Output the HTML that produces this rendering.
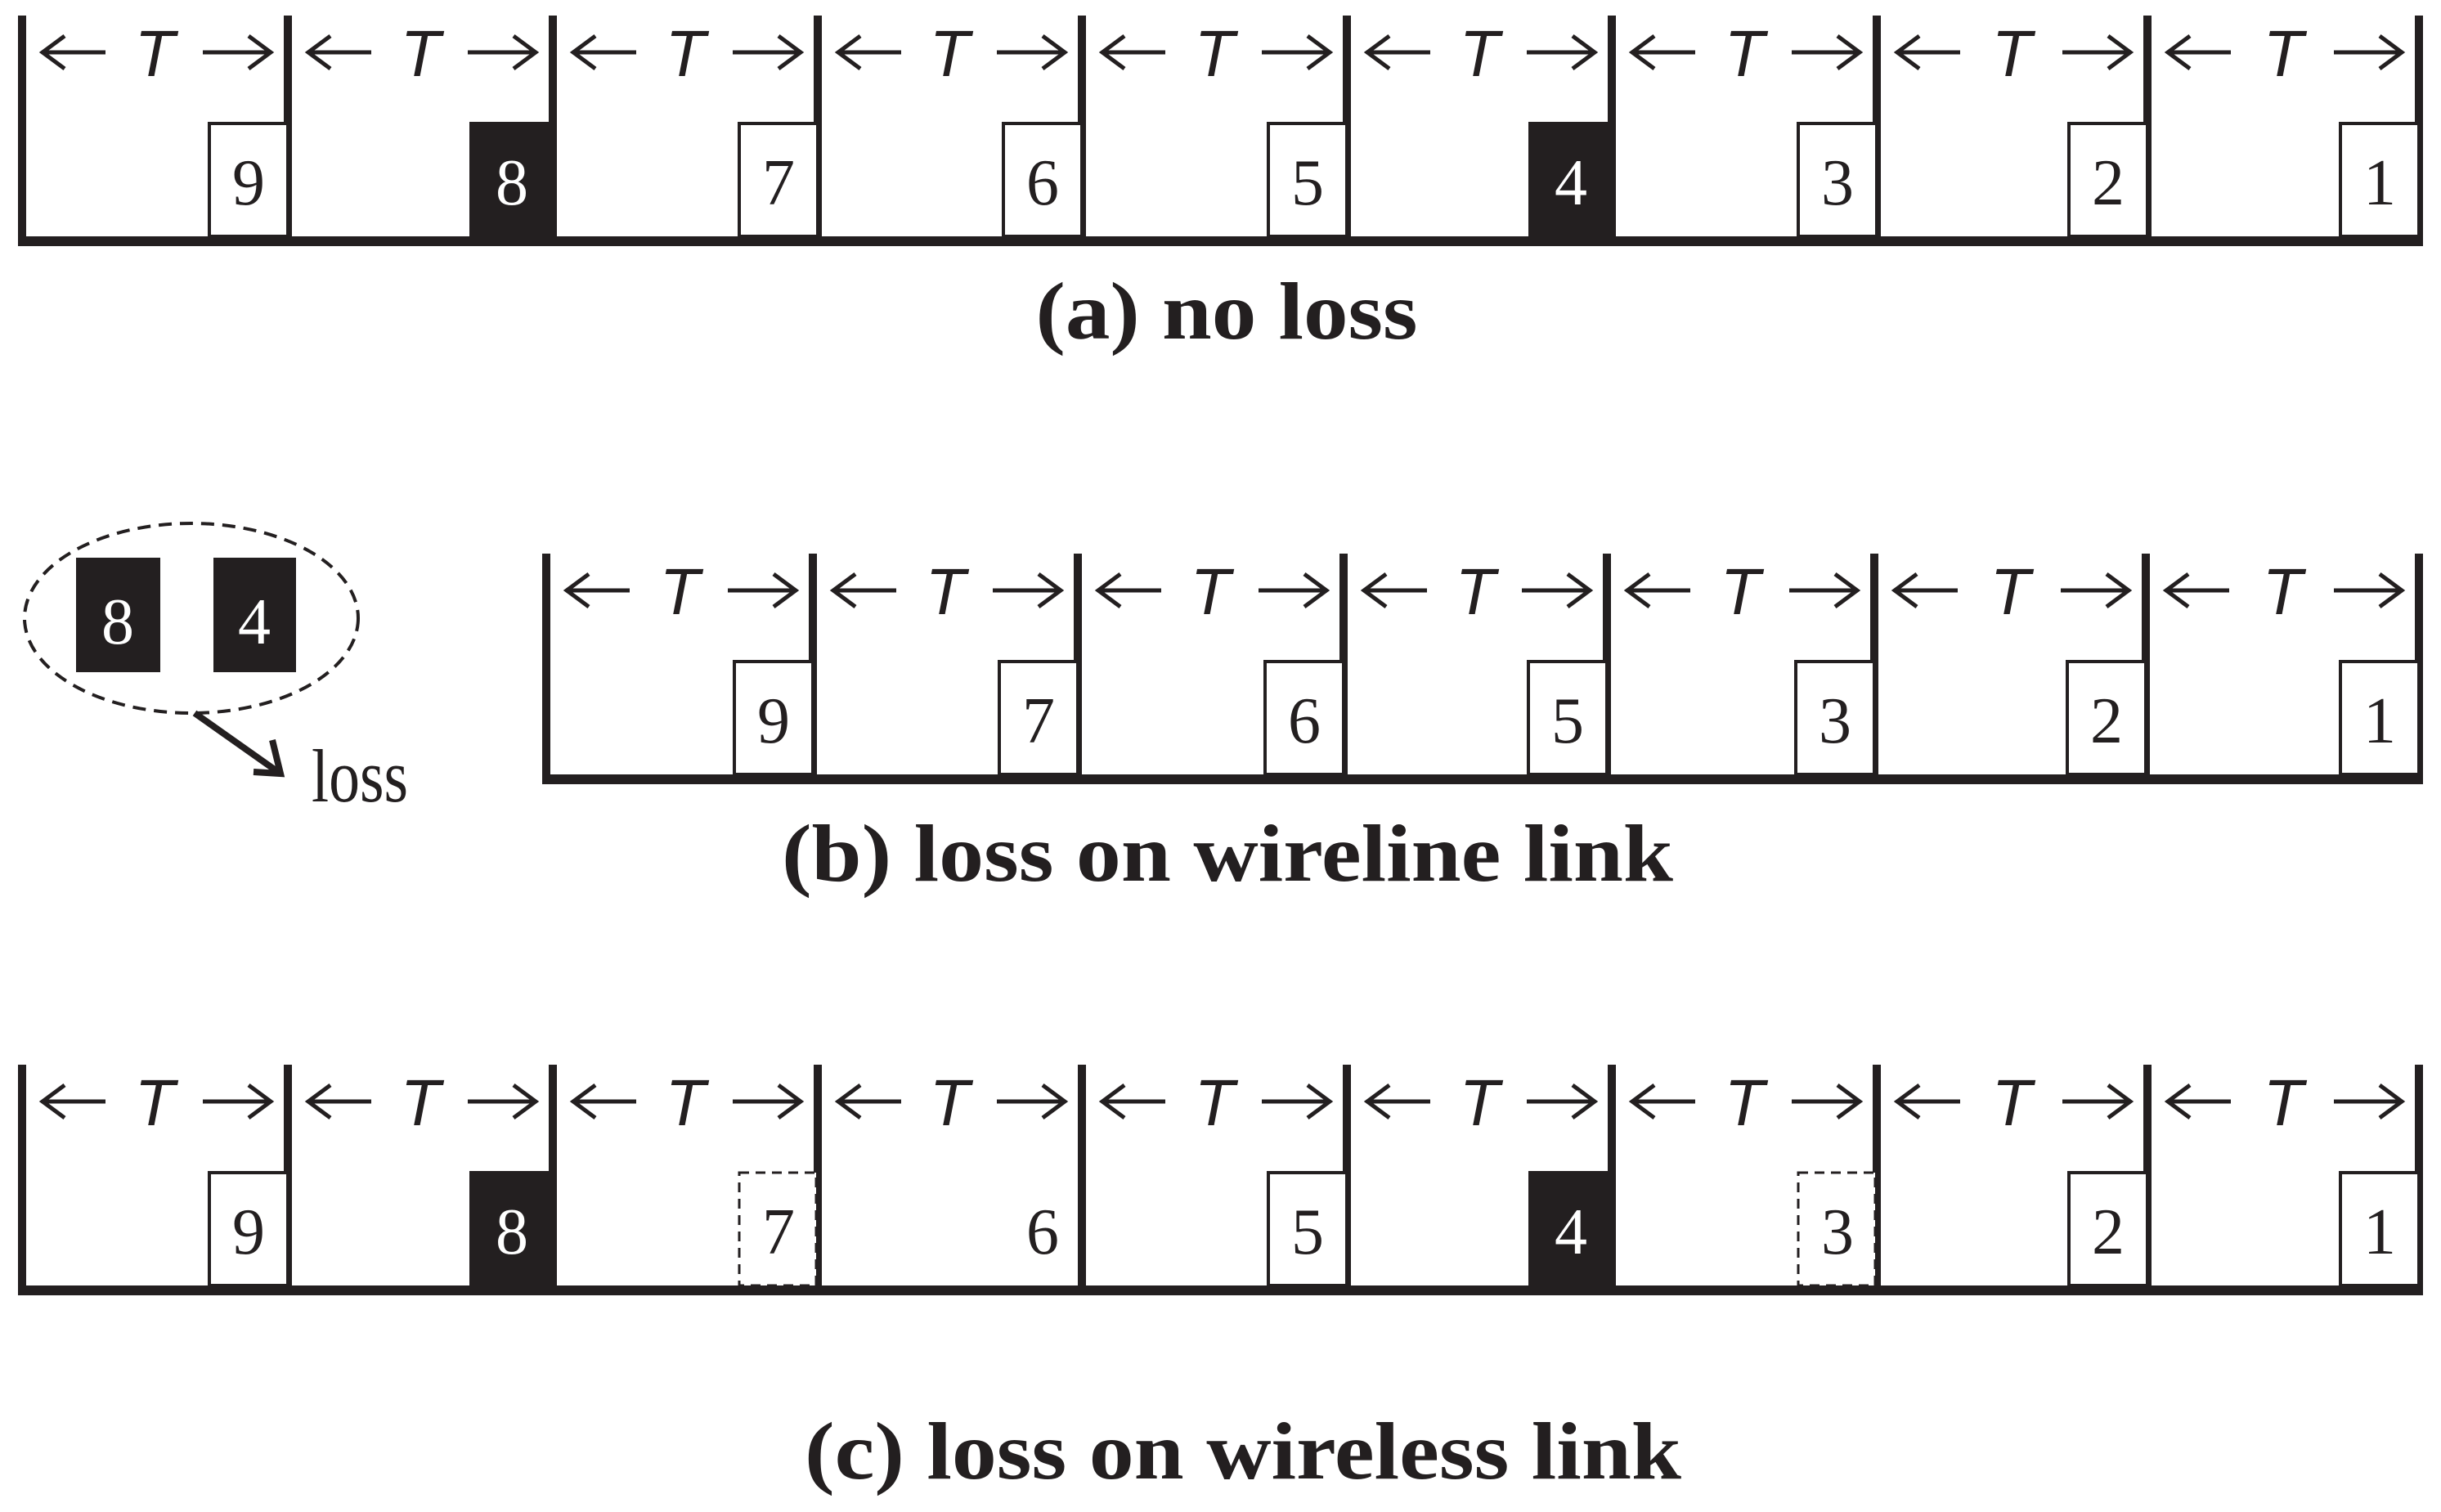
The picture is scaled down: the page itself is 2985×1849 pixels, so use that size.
<!DOCTYPE html>
<html><head><meta charset="utf-8"><style>
html,body{margin:0;padding:0;background:#fff;}
svg{display:block;}
.t{font-family:"Liberation Sans",sans-serif;font-style:italic;font-size:80px;fill:#231f20;}
.d{font-family:"Liberation Serif",serif;font-size:80px;fill:#231f20;}
.w{fill:#fff;}
.cap{font-family:"Liberation Serif",serif;font-weight:bold;font-size:100px;fill:#231f20;}
.loss{font-family:"Liberation Serif",serif;font-size:92px;fill:#231f20;}
</style></head><body>
<svg width="2985" height="1849" viewBox="0 0 2985 1849" xmlns="http://www.w3.org/2000/svg">
<defs>
<g id="arr" stroke="#231f20" stroke-width="5" fill="none"><path d="M102 64H25M52 44L25 64L52 84"/></g>
<g id="arrR" stroke="#231f20" stroke-width="5" fill="none"><path d="M-104 64H-21M-48 44L-21 64L-48 84"/></g>
</defs>

<!-- ROW A -->
<g>
<rect x="22" y="289" width="2941" height="12" fill="#231f20"/>
<g stroke="#231f20" stroke-width="10">
<line x1="27" y1="19" x2="27" y2="295"/><line x1="352" y1="19" x2="352" y2="295"/><line x1="676" y1="19" x2="676" y2="295"/><line x1="1000" y1="19" x2="1000" y2="295"/><line x1="1323" y1="19" x2="1323" y2="295"/><line x1="1647" y1="19" x2="1647" y2="295"/><line x1="1971" y1="19" x2="1971" y2="295"/><line x1="2295" y1="19" x2="2295" y2="295"/><line x1="2626" y1="19" x2="2626" y2="295"/><line x1="2958" y1="19" x2="2958" y2="295"/>
</g>
<use href="#arr" x="27"/><use href="#arrR" x="352"/><text class="t" x="189" y="93" text-anchor="middle">T</text>
<use href="#arr" x="352"/><use href="#arrR" x="676"/><text class="t" x="514" y="93" text-anchor="middle">T</text>
<use href="#arr" x="676"/><use href="#arrR" x="1000"/><text class="t" x="838" y="93" text-anchor="middle">T</text>
<use href="#arr" x="1000"/><use href="#arrR" x="1323"/><text class="t" x="1161" y="93" text-anchor="middle">T</text>
<use href="#arr" x="1323"/><use href="#arrR" x="1647"/><text class="t" x="1485" y="93" text-anchor="middle">T</text>
<use href="#arr" x="1647"/><use href="#arrR" x="1971"/><text class="t" x="1809" y="93" text-anchor="middle">T</text>
<use href="#arr" x="1971"/><use href="#arrR" x="2295"/><text class="t" x="2133" y="93" text-anchor="middle">T</text>
<use href="#arr" x="2295"/><use href="#arrR" x="2626"/><text class="t" x="2460" y="93" text-anchor="middle">T</text>
<use href="#arr" x="2626"/><use href="#arrR" x="2958"/><text class="t" x="2792" y="93" text-anchor="middle">T</text>
<g fill="#fff" stroke="#231f20" stroke-width="4">
<rect x="256" y="151" width="96" height="138"/>
<rect x="904" y="151" width="96" height="138"/>
<rect x="1227" y="151" width="96" height="138"/>
<rect x="1551" y="151" width="96" height="138"/>
<rect x="2199" y="151" width="96" height="138"/>
<rect x="2530" y="151" width="96" height="138"/>
<rect x="2862" y="151" width="96" height="138"/>
</g>
<rect x="574" y="149" width="104" height="146" fill="#231f20"/>
<rect x="1869" y="149" width="104" height="146" fill="#231f20"/>
<text class="d" x="304" y="250" text-anchor="middle">9</text>
<text class="d w" x="626" y="250" text-anchor="middle">8</text>
<text class="d" x="952" y="250" text-anchor="middle">7</text>
<text class="d" x="1275" y="250" text-anchor="middle">6</text>
<text class="d" x="1599" y="250" text-anchor="middle">5</text>
<text class="d w" x="1921" y="250" text-anchor="middle">4</text>
<text class="d" x="2247" y="250" text-anchor="middle">3</text>
<text class="d" x="2578" y="250" text-anchor="middle">2</text>
<text class="d" x="2910" y="250" text-anchor="middle">1</text>
</g>
<text class="cap" x="1500" y="414" text-anchor="middle" textLength="467" lengthAdjust="spacingAndGlyphs">(a) no loss</text>

<!-- ROW B -->
<g transform="translate(0,658)">
<rect x="663" y="289" width="2300" height="12" fill="#231f20"/>
<g stroke="#231f20" stroke-width="10">
<line x1="668" y1="19" x2="668" y2="295"/><line x1="994" y1="19" x2="994" y2="295"/><line x1="1318" y1="19" x2="1318" y2="295"/><line x1="1643" y1="19" x2="1643" y2="295"/><line x1="1965" y1="19" x2="1965" y2="295"/><line x1="2292" y1="19" x2="2292" y2="295"/><line x1="2624" y1="19" x2="2624" y2="295"/><line x1="2958" y1="19" x2="2958" y2="295"/>
</g>
<use href="#arr" x="668"/><use href="#arrR" x="994"/><text class="t" x="831" y="93" text-anchor="middle">T</text>
<use href="#arr" x="994"/><use href="#arrR" x="1318"/><text class="t" x="1156" y="93" text-anchor="middle">T</text>
<use href="#arr" x="1318"/><use href="#arrR" x="1643"/><text class="t" x="1480" y="93" text-anchor="middle">T</text>
<use href="#arr" x="1643"/><use href="#arrR" x="1965"/><text class="t" x="1804" y="93" text-anchor="middle">T</text>
<use href="#arr" x="1965"/><use href="#arrR" x="2292"/><text class="t" x="2128" y="93" text-anchor="middle">T</text>
<use href="#arr" x="2292"/><use href="#arrR" x="2624"/><text class="t" x="2458" y="93" text-anchor="middle">T</text>
<use href="#arr" x="2624"/><use href="#arrR" x="2958"/><text class="t" x="2791" y="93" text-anchor="middle">T</text>
<g fill="#fff" stroke="#231f20" stroke-width="4">
<rect x="898" y="151" width="96" height="138"/>
<rect x="1222" y="151" width="96" height="138"/>
<rect x="1547" y="151" width="96" height="138"/>
<rect x="1869" y="151" width="96" height="138"/>
<rect x="2196" y="151" width="96" height="138"/>
<rect x="2528" y="151" width="96" height="138"/>
<rect x="2862" y="151" width="96" height="138"/>
</g>
<text class="d" x="946" y="250" text-anchor="middle">9</text>
<text class="d" x="1270" y="250" text-anchor="middle">7</text>
<text class="d" x="1595" y="250" text-anchor="middle">6</text>
<text class="d" x="1917" y="250" text-anchor="middle">5</text>
<text class="d" x="2244" y="250" text-anchor="middle">3</text>
<text class="d" x="2576" y="250" text-anchor="middle">2</text>
<text class="d" x="2910" y="250" text-anchor="middle">1</text>
</g>
<ellipse cx="234" cy="756" rx="204" ry="116" fill="none" stroke="#231f20" stroke-width="4" stroke-dasharray="16 10"/>
<rect x="93" y="682" width="103" height="140" fill="#231f20"/>
<rect x="261" y="682" width="101" height="140" fill="#231f20"/>
<text class="d w" x="144" y="787" text-anchor="middle">8</text>
<text class="d w" x="311" y="787" text-anchor="middle">4</text>
<g stroke="#231f20" stroke-width="8" fill="none">
<line x1="238" y1="872" x2="340" y2="944"/>
<polyline points="333,905 343,946 310,944"/>
</g>
<text class="loss" x="381" y="980" textLength="118" lengthAdjust="spacingAndGlyphs">loss</text>
<text class="cap" x="956" y="1077" textLength="1090" lengthAdjust="spacingAndGlyphs">(b) loss on wireline link</text>

<!-- ROW C -->
<g transform="translate(0,1283)">
<rect x="22" y="289" width="2941" height="12" fill="#231f20"/>
<g stroke="#231f20" stroke-width="10">
<line x1="27" y1="19" x2="27" y2="295"/><line x1="352" y1="19" x2="352" y2="295"/><line x1="676" y1="19" x2="676" y2="295"/><line x1="1000" y1="19" x2="1000" y2="295"/><line x1="1323" y1="19" x2="1323" y2="295"/><line x1="1647" y1="19" x2="1647" y2="295"/><line x1="1971" y1="19" x2="1971" y2="295"/><line x1="2295" y1="19" x2="2295" y2="295"/><line x1="2626" y1="19" x2="2626" y2="295"/><line x1="2958" y1="19" x2="2958" y2="295"/>
</g>
<use href="#arr" x="27"/><use href="#arrR" x="352"/><text class="t" x="189" y="93" text-anchor="middle">T</text>
<use href="#arr" x="352"/><use href="#arrR" x="676"/><text class="t" x="514" y="93" text-anchor="middle">T</text>
<use href="#arr" x="676"/><use href="#arrR" x="1000"/><text class="t" x="838" y="93" text-anchor="middle">T</text>
<use href="#arr" x="1000"/><use href="#arrR" x="1323"/><text class="t" x="1161" y="93" text-anchor="middle">T</text>
<use href="#arr" x="1323"/><use href="#arrR" x="1647"/><text class="t" x="1485" y="93" text-anchor="middle">T</text>
<use href="#arr" x="1647"/><use href="#arrR" x="1971"/><text class="t" x="1809" y="93" text-anchor="middle">T</text>
<use href="#arr" x="1971"/><use href="#arrR" x="2295"/><text class="t" x="2133" y="93" text-anchor="middle">T</text>
<use href="#arr" x="2295"/><use href="#arrR" x="2626"/><text class="t" x="2460" y="93" text-anchor="middle">T</text>
<use href="#arr" x="2626"/><use href="#arrR" x="2958"/><text class="t" x="2792" y="93" text-anchor="middle">T</text>
<g fill="#fff" stroke="#231f20" stroke-width="4">
<rect x="256" y="151" width="96" height="138"/>
<rect x="1551" y="151" width="96" height="138"/>
<rect x="2530" y="151" width="96" height="138"/>
<rect x="2862" y="151" width="96" height="138"/>
</g>
<g fill="#fff" stroke="#231f20" stroke-width="3" stroke-dasharray="12 8">
<rect x="580" y="151" width="94" height="138"/>
<rect x="904" y="151" width="94" height="138"/>
<rect x="2199" y="151" width="94" height="138"/>
</g>
<rect x="574" y="149" width="104" height="146" fill="#231f20"/>
<rect x="1869" y="149" width="104" height="146" fill="#231f20"/>
<text class="d" x="304" y="250" text-anchor="middle">9</text>
<text class="d w" x="626" y="250" text-anchor="middle">8</text>
<text class="d" x="952" y="250" text-anchor="middle">7</text>
<text class="d" x="1275" y="250" text-anchor="middle">6</text>
<text class="d" x="1599" y="250" text-anchor="middle">5</text>
<text class="d w" x="1921" y="250" text-anchor="middle">4</text>
<text class="d" x="2247" y="250" text-anchor="middle">3</text>
<text class="d" x="2578" y="250" text-anchor="middle">2</text>
<text class="d" x="2910" y="250" text-anchor="middle">1</text>
</g>
<text class="cap" x="984" y="1808" textLength="1072" lengthAdjust="spacingAndGlyphs">(c) loss on wireless link</text>
</svg>
</body></html>
